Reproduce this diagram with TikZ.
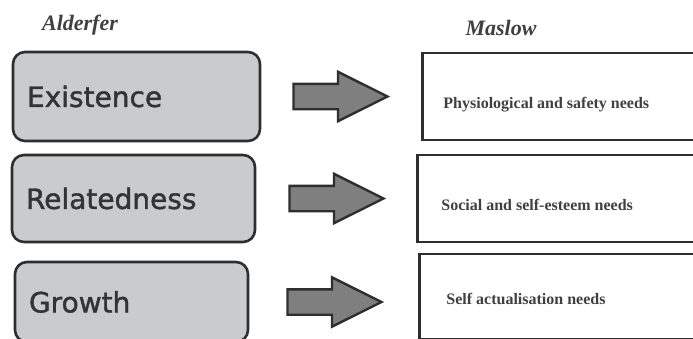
\documentclass[tikz,border=0pt]{standalone}
\usepackage{fontspec}
\setmainfont{Liberation Serif}
\newfontfamily\ergfont[FakeBold=1.5]{DejaVu Sans}
\usetikzlibrary{positioning,shapes.arrows}
\definecolor{edge}{HTML}{2E2E2E}
\definecolor{ergfill}{HTML}{CACBCD}
\definecolor{fatfill}{HTML}{7F7F7F}

\begin{document}
\begin{tikzpicture}[x=1pt,y=-1pt,node distance=31pt,
  erg/.style={draw=edge,fill=ergfill,line width=2.6pt,rounded corners=12pt,inner xsep=14pt,align=left,
    font=\ergfont\fontsize{28}{30}\selectfont,text=black!80},
  fat/.style={single arrow,draw=edge,fill=fatfill,line width=2.4pt,minimum height=94pt,inner xsep=0pt,
    inner ysep=11.5pt,single arrow head extend=12pt,single arrow tip angle=53},
  need/.style={draw=edge,line width=2.6pt,fill=white,minimum width=290pt,minimum height=87pt},
  needtxt/.style={inner sep=0pt,font=\bfseries\fontsize{16}{18}\selectfont,text=black!75},
  ttl/.style={font=\bfseries\itshape\fontsize{22}{24}\selectfont,text=black!75}]
  \useasboundingbox (0,0) rectangle (693,338);
  % titles
  \node[ttl](alder) at (80,25){Alderfer};
  \node[ttl](maslow) at (501,28){Maslow};
  % ERG column
  \node[erg,text width=219pt,minimum height=89pt](ex) at (136.5,96.5){Existence};
  \node[erg,text width=215pt,minimum height=87pt](rel) at (133.5,198.5){Relatedness};
  \node[erg,text width=205pt,minimum height=80pt](gro) at (131.5,302){Growth};
  % block arrows
  \node[fat,right=of ex](a1){};
  \node[fat,right=32pt of rel](a2){};
  \node[fat,right=37pt of gro](a3){};
  % Maslow column
  \node[need,right=of a1](phys){};
  \node[need,right=30pt of a2](soc){};
  \node[need,right=34pt of a3,yshift=5.5pt,minimum height=85pt](self){};
  \node[needtxt,right=22pt of phys.west,yshift=-8.5pt](physt){Physiological and safety needs};
  \node[needtxt,right=25pt of soc.west,yshift=-6.5pt](soct){Social and self-esteem needs};
  \node[needtxt,right=28pt of self.west,yshift=-2.5pt](selft){Self actualisation needs};
\end{tikzpicture}
\end{document}
